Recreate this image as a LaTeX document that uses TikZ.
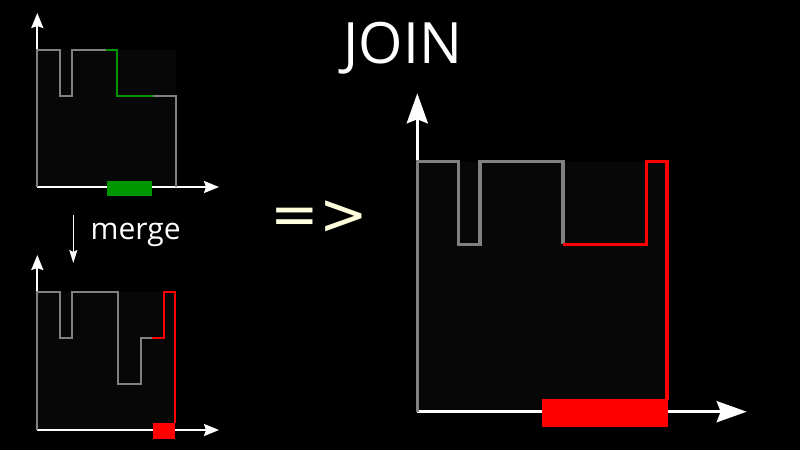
\documentclass[tikz,border=0pt]{standalone}
\usepackage{fontspec}
\setmainfont{Open Sans}
\newfontfamily\implfont{DejaVu Sans}
\usetikzlibrary{positioning,arrows.meta,calc}
\definecolor{plotbg}{RGB}{7,7,7}
\definecolor{profgray}{RGB}{128,128,128}
\definecolor{mergegreen}{RGB}{0,150,0}
\definecolor{cream}{RGB}{255,255,222}

\begin{document}
\begin{tikzpicture}[
    x=1pt, y=-1pt,
    smallaxis/.style={draw=white, line width=2pt, -{Stealth[length=15pt, width=12pt, inset=2pt]}},
    bigaxis/.style={draw=white, line width=3.3pt, -{Stealth[length=30pt, width=21pt, inset=4pt]}},
    oldline/.style={draw=profgray, line width=#1},
    greenline/.style={draw=mergegreen, line width=#1},
    redline/.style={draw=red, line width=#1},
    title/.style={text=white, font=\fontsize{57}{60}\selectfont, inner sep=0pt},
    >=Stealth
  ]
  \fill[black] (0,0) rectangle (800,450);
  \useasboundingbox (0,0) rectangle (800,450);

  % before: new slice in green
  \fill[plotbg] (37.3,49.5) rectangle (175.7,187);
  \draw[smallaxis] (37.3,187) -- (37.3,13);
  \draw[smallaxis] (37.3,187) -- (219,187);
  \draw[oldline=2pt] (37.3,187) -- (37.3,49.5) -- (60.3,49.5) -- (60.3,95.7) -- (71.7,95.7) -- (71.7,49.5) -- (105.7,49.5);
  \draw[greenline=2pt] (105.7,49.5) -- (117.3,49.5) -- (117.3,95.7) -- (153.3,95.7);
  \draw[oldline=2pt] (153.3,95.7) -- (175.7,95.7) -- (175.7,187);
  \fill[mergegreen] (106.7,180.7) rectangle (152.3,196);

  % merge step
  \coordinate (mtop) at (73.3,215);
  \coordinate (mbot) at (73.3,263);
  \draw[white, line width=1.4pt, -{Stealth[length=13pt, width=8pt, inset=2pt]}] (mtop) -- (mbot);
  \node[text=white, font=\fontsize{30}{32}\selectfont, inner sep=0pt, anchor=base west] (mlbl) at (90.5,239.3) {merge};

  % after merge: new slice in red
  \fill[plotbg] (37.3,291.7) rectangle (175,430);
  \draw[smallaxis] (37.3,430) -- (37.3,255);
  \draw[smallaxis] (37.3,430) -- (219,430);
  \draw[oldline=2pt] (37.3,430) -- (37.3,291.7) -- (60.3,291.7) -- (60.3,337.7) -- (72.3,337.7) -- (72.3,291.7) -- (118,291.7) -- (118,384) -- (140.7,384) -- (140.7,337.7) -- (151.7,337.7);
  \draw[redline=2pt] (151.7,337.7) -- (164,337.7) -- (164,291.7) -- (175,291.7) -- (175,423.3);
  \fill[red] (152.7,423.3) rectangle (175.3,438.7);

  % arrow and title
  \node[text=cream, font=\implfont\fontsize{58}{60}\selectfont, inner sep=0pt] (impl) at (319.5,217.7) {=>};
  \node[title, anchor=base] (join) at (403,63.3) {JOIN};

  % joined result
  \fill[plotbg] (417.3,161.7) rectangle (667,411.7);
  \draw[bigaxis] (417.3,411.7) -- (417.3,93.3);
  \draw[bigaxis] (417.3,411.7) -- (746.7,411.7);
  \draw[oldline=3.5pt] (417.3,411.7) -- (417.3,161.7) -- (458.7,161.7) -- (458.7,244.3) -- (480,244.3) -- (480,161.7) -- (563,161.7) -- (563,244.3);
  \draw[redline=3.5pt] (563,244.3) -- (646.7,244.3) -- (646.7,161.7) -- (667,161.7) -- (667,400);
  \fill[red] (542.3,399.3) rectangle (667.7,427.3);
\end{tikzpicture}
\end{document}
